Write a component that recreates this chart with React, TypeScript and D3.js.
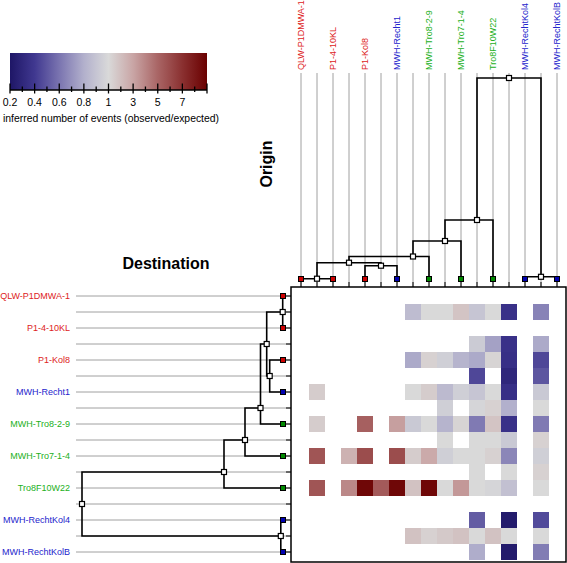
import React from "react";
import * as d3 from "d3";

// ---- data ----
const leafNames = [
  "QLW-P1DMWA-1",
  "P1-4-10KL",
  "P1-Kol8",
  "MWH-Recht1",
  "MWH-Tro8-2-9",
  "MWH-Tro7-1-4",
  "Tro8F10W22",
  "MWH-RechtKol4",
  "MWH-RechtKolB",
];
const leafGroups = ["red", "red", "red", "blue", "green", "green", "green", "blue", "blue"];

// internal nodes of the tree (position in the 17-slot ordering, children, depth)
const nodePositions = [1, 5, 3, 7, 9, 11, 15, 13];
const nodeLeftChild = [0, 4, 1, 3, 7, 9, 14, 11];
const nodeRightChild = [2, 6, 5, 8, 10, 12, 16, 15];
const nodeDepths = [0.3, 13.3, 16.3, 22.5, 38, 59, 2.2, 201];

const legendTicks = [0.2, 0.3, 0.4, 0.5, 0.6, 0.7, 0.8, 0.9, 1, 2, 3, 4, 5, 6, 7, 8, 9];
const legendMajor = [0.2, 0.4, 0.6, 0.8, 1, 3, 5, 7, 9];
const legendLabels = [0.2, 0.4, 0.6, 0.8, 1, 3, 5, 7];
const legendTitle = "inferred number of events (observed/expected)";

const n = null;
// rows = destination branches, cols = origin branches (17 x 17)
const eventRatio: (number | null)[][] = [
  [n, n, n, n, n, n, n, n, n, n, n, n, n, n, n, n, n],
  [n, n, n, n, n, n, n, 0.86, 1.0, 1.0, 1.8, 0.9, 1.0, 0.36, n, 0.65, n],
  [n, n, n, n, n, n, n, n, n, n, n, n, n, n, n, n, n],
  [n, n, n, n, n, n, n, n, n, n, n, 0.93, 0.75, 0.36, n, 0.78, n],
  [n, n, n, n, n, n, n, 0.78, 1.3, 0.95, 0.82, 0.78, 1.2, 0.35, n, 0.45, n],
  [n, n, n, n, n, n, n, n, n, n, n, 0.45, n, 0.3, n, 0.5, n],
  [n, 1.5, n, n, n, n, n, 1.0, 1.5, 0.85, 0.95, 0.9, 1.0, 0.35, n, 0.92, n],
  [n, n, n, n, n, n, n, n, n, 0.95, n, 0.98, 1.3, 0.8, n, 1.0, n],
  [n, 1.5, n, n, 5.2, n, 3.2, 0.92, 1.0, 0.82, 1.2, 0.62, 1.8, 0.36, n, 0.62, n],
  [n, n, n, n, n, n, n, n, n, 1.0, n, 1.0, 1.0, 0.92, n, 1.3, n],
  [n, 5.6, n, 2.5, 5.9, n, 5.9, 1.5, 2.8, 0.95, 1.0, 1.0, 1.3, 0.66, n, 0.95, n],
  [n, n, n, n, n, n, n, n, n, n, n, 1.0, n, 1.0, n, 1.3, n],
  [n, 5.6, n, 3.9, 8.7, 5.4, 8.7, 1.9, 8.7, 1.0, 3.4, 1.0, 0.98, 0.88, n, 1.0, n],
  [n, n, n, n, n, n, n, n, n, n, n, n, n, n, n, n, n],
  [n, n, n, n, n, n, n, n, n, n, n, 0.52, n, 0.23, n, 0.46, n],
  [n, n, n, n, n, n, n, 1.9, 1.3, 1.6, 1.9, 1.0, 1.9, 1.0, n, 1.0, n],
  [n, n, n, n, n, n, n, n, n, n, n, 0.79, n, 0.23, n, 0.63, n],
];

// ---- styling ----
const FONT = "'Liberation Sans', Arial, Helvetica, sans-serif";
const labelColor: Record<string, string> = { red: "#dd2222", blue: "#2424cc", green: "#22b022" };
const leafFill: Record<string, string> = { red: "#cc0000", blue: "#0000b0", green: "#008800" };
const colorDomain = [0.2, 0.4, 0.6, 0.8, 1, 3, 5, 7, 9];
const colorRange = [
  "#1e1666",
  "#403890",
  "#7a74b0",
  "#b2b0cc",
  "#d9d9d9",
  "#c9a5a5",
  "#a96565",
  "#8a3030",
  "#6a0000",
];

const W = 567;
const H = 563;
const slots = d3.range(17);

const xBand = d3.scaleBand<number>().domain(slots).range([293, 565]);
const yBand = d3.scaleBand<number>().domain(slots).range([288, 560]);
const xc = (i: number) => (xBand(i) as number) + xBand.bandwidth() / 2;
const yc = (i: number) => (yBand(i) as number) + yBand.bandwidth() / 2;

const maxDepth = d3.max(nodeDepths) as number;
const topDepth = d3.scaleLinear().domain([0, maxDepth]).range([279, 78]);
const leftDepth = d3.scaleLinear().domain([0, maxDepth]).range([283, 82]);

const color = d3
  .scaleLinear<string>()
  .domain(colorDomain)
  .range(colorRange)
  .interpolate(d3.interpolateRgb)
  .clamp(true);
const legendX = d3.scaleLinear().domain([0.2, 1, 9]).range([10, 108.5, 207]);

const depthOf = (pos: number) => {
  const k = nodePositions.indexOf(pos);
  return k < 0 ? 0 : nodeDepths[k];
};

export default function App() {
  const fmt = (v: number) => (v < 1 ? v.toFixed(1) : String(v));
  const gradStops = legendTicks.map((v) => ({
    offset: (legendX(v) - 10) / (207 - 10),
    c: color(v),
  }));

  const topPaths = nodePositions.map((p, k) => {
    const py = topDepth(nodeDepths[k]);
    const l = nodeLeftChild[k];
    const r = nodeRightChild[k];
    return `M${xc(l)},${topDepth(depthOf(l))}V${py}H${xc(r)}V${topDepth(depthOf(r))}`;
  });
  const leftPaths = nodePositions.map((p, k) => {
    const px = leftDepth(nodeDepths[k]);
    const l = nodeLeftChild[k];
    const r = nodeRightChild[k];
    return `M${leftDepth(depthOf(l))},${yc(l)}H${px}V${yc(r)}H${leftDepth(depthOf(r))}`;
  });

  const cells: { r: number; c: number; v: number }[] = [];
  eventRatio.forEach((row, r) =>
    row.forEach((v, c) => {
      if (v !== null) cells.push({ r, c, v });
    })
  );

  const sq = 5;

  return (
    <svg
      width={W}
      height={H}
      style={{ position: "absolute", left: 0, top: 0, background: "#fff" }}
      fontFamily={FONT}
    >
      <defs>
        <linearGradient id="lg" x1="0" x2="1" y1="0" y2="0">
          {gradStops.map((s, i) => (
            <stop key={i} offset={s.offset} stopColor={s.c} />
          ))}
        </linearGradient>
      </defs>
      <rect width={W} height={H} fill="#fff" />

      {/* legend */}
      <rect x={10} y={53} width={197} height={37} fill="url(#lg)" />
      <line x1={10} x2={207} y1={90} y2={90} stroke="#000" strokeWidth={1.5} />
      {legendTicks.map((v) => {
        const major = legendMajor.includes(v);
        return (
          <line
            key={v}
            x1={legendX(v)}
            x2={legendX(v)}
            y1={major ? 83.5 : 86.5}
            y2={major ? 93.5 : 92}
            stroke="#000"
            strokeWidth={1.3}
          />
        );
      })}
      {legendLabels.map((v) => (
        <text key={v} x={legendX(v)} y={106} fontSize={10.5} textAnchor="middle" fill="#000">
          {fmt(v)}
        </text>
      ))}
      <text x={3} y={122} fontSize={10.4} fill="#000">
        {legendTitle}
      </text>

      {/* titles */}
      <text x={166} y={269} fontSize={16} fontWeight="bold" textAnchor="middle" fill="#000">
        Destination
      </text>
      <text
        transform={`translate(272,164) rotate(-90)`}
        fontSize={16}
        fontWeight="bold"
        textAnchor="middle"
        fill="#000"
      >
        Origin
      </text>

      {/* guide lines */}
      {slots.map((i) => (
        <line key={"gv" + i} x1={xc(i)} x2={xc(i)} y1={73} y2={287} stroke="#a0a0a0" strokeWidth={1} />
      ))}
      {slots.map((i) => (
        <line key={"gh" + i} x1={76} x2={291} y1={yc(i)} y2={yc(i)} stroke="#a0a0a0" strokeWidth={1} />
      ))}

      {/* labels */}
      {leafNames.map((name, j) => (
        <text
          key={"tl" + j}
          transform={`translate(${xc(j * 2)},70) rotate(-90)`}
          fontSize={9}
          textAnchor="start"
          dy="0.35em"
          fill={labelColor[leafGroups[j]]}
        >
          {name}
        </text>
      ))}
      {leafNames.map((name, j) => (
        <text
          key={"ll" + j}
          x={70}
          y={yc(j * 2)}
          fontSize={9}
          textAnchor="end"
          dy="0.35em"
          fill={labelColor[leafGroups[j]]}
        >
          {name}
        </text>
      ))}

      {/* heatmap cells */}
      {cells.map((d) => (
        <rect
          key={`c${d.r}-${d.c}`}
          x={xBand(d.c)}
          y={yBand(d.r)}
          width={xBand.bandwidth()}
          height={yBand.bandwidth()}
          fill={color(d.v)}
        />
      ))}
      <rect x={291} y={287} width={275} height={275} fill="none" stroke="#000" strokeWidth={1.5} />
      {slots.map((i) => (
        <line key={"tt" + i} x1={xc(i)} x2={xc(i)} y1={282} y2={287} stroke="#000" strokeWidth={1} />
      ))}
      {slots.map((i) => (
        <line key={"lt" + i} x1={286} x2={291} y1={yc(i)} y2={yc(i)} stroke="#000" strokeWidth={1} />
      ))}

      {/* dendrograms */}
      {topPaths.map((d, i) => (
        <path key={"tp" + i} d={d} fill="none" stroke="#000" strokeWidth={1.6} />
      ))}
      {leftPaths.map((d, i) => (
        <path key={"lp" + i} d={d} fill="none" stroke="#000" strokeWidth={1.6} />
      ))}

      {/* nodes */}
      {leafNames.map((_, j) => (
        <g key={"leaf" + j}>
          <rect
            x={xc(j * 2) - sq / 2}
            y={topDepth(0) - sq / 2}
            width={sq}
            height={sq}
            fill={leafFill[leafGroups[j]]}
            stroke="#000"
            strokeWidth={1}
          />
          <rect
            x={leftDepth(0) - sq / 2}
            y={yc(j * 2) - sq / 2}
            width={sq}
            height={sq}
            fill={leafFill[leafGroups[j]]}
            stroke="#000"
            strokeWidth={1}
          />
        </g>
      ))}
      {nodePositions.map((p, k) => (
        <g key={"node" + k}>
          <rect
            x={xc(p) - sq / 2}
            y={topDepth(nodeDepths[k]) - sq / 2}
            width={sq}
            height={sq}
            fill="#fff"
            stroke="#000"
            strokeWidth={1.2}
          />
          <rect
            x={leftDepth(nodeDepths[k]) - sq / 2}
            y={yc(p) - sq / 2}
            width={sq}
            height={sq}
            fill="#fff"
            stroke="#000"
            strokeWidth={1.2}
          />
        </g>
      ))}
    </svg>
  );
}
